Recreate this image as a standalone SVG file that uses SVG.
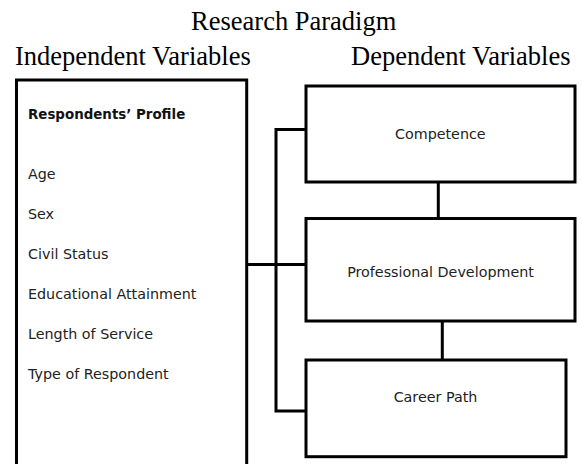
<svg xmlns="http://www.w3.org/2000/svg" width="582" height="464" viewBox="0 0 582 464">
<style>
.box{fill:#fff;stroke:#000;stroke-width:3}
.con{fill:none;stroke:#000;stroke-width:3}
.hd{font-family:"Liberation Serif","Times New Roman",serif;font-size:26.5px;fill:#000}
.tx{font-family:"DejaVu Sans",Tahoma,Verdana,sans-serif;font-size:14.3px;fill:#222}
.bd{font-family:"DejaVu Sans",Tahoma,Verdana,sans-serif;font-size:13.4px;font-weight:bold;fill:#111}
.c{text-anchor:middle}
</style>
<rect width="582" height="464" fill="#fff"/>
<g id="titles">
<text class="hd c" x="293.7" y="30">Research Paradigm</text>
<text class="hd" x="15" y="65">Independent Variables</text>
<text class="hd" x="351" y="65">Dependent Variables</text>
</g>
<g id="connectors">
<path class="con" d="M246.7,264.5 H306"/>
<path class="con" d="M306,129.5 H276 V411 H306"/>
<path class="con" d="M438.3,182 V218.5"/>
<path class="con" d="M442.3,321 V360"/>
</g>
<g id="profile">
<rect class="box" x="16.5" y="80" width="230.2" height="400"/>
<text class="bd" x="28" y="118.5">Respondents’ Profile</text>
<text class="tx" x="28" y="178.5">Age</text>
<text class="tx" x="28" y="218.5">Sex</text>
<text class="tx" x="28" y="258.5">Civil Status</text>
<text class="tx" x="28" y="299">Educational Attainment</text>
<text class="tx" x="28" y="339">Length of Service</text>
<text class="tx" x="28" y="379">Type of Respondent</text>
</g>
<g id="competence">
<rect class="box" x="306" y="86" width="269" height="96"/>
<text class="tx c" x="440.3" y="139">Competence</text>
</g>
<g id="professional-development">
<rect class="box" x="306" y="218.5" width="269" height="102.5"/>
<text class="tx c" x="440.5" y="277.3">Professional Development</text>
</g>
<g id="career-path">
<rect class="box" x="306" y="360" width="260" height="96.7"/>
<text class="tx c" x="435.5" y="402">Career Path</text>
</g>
</svg>
